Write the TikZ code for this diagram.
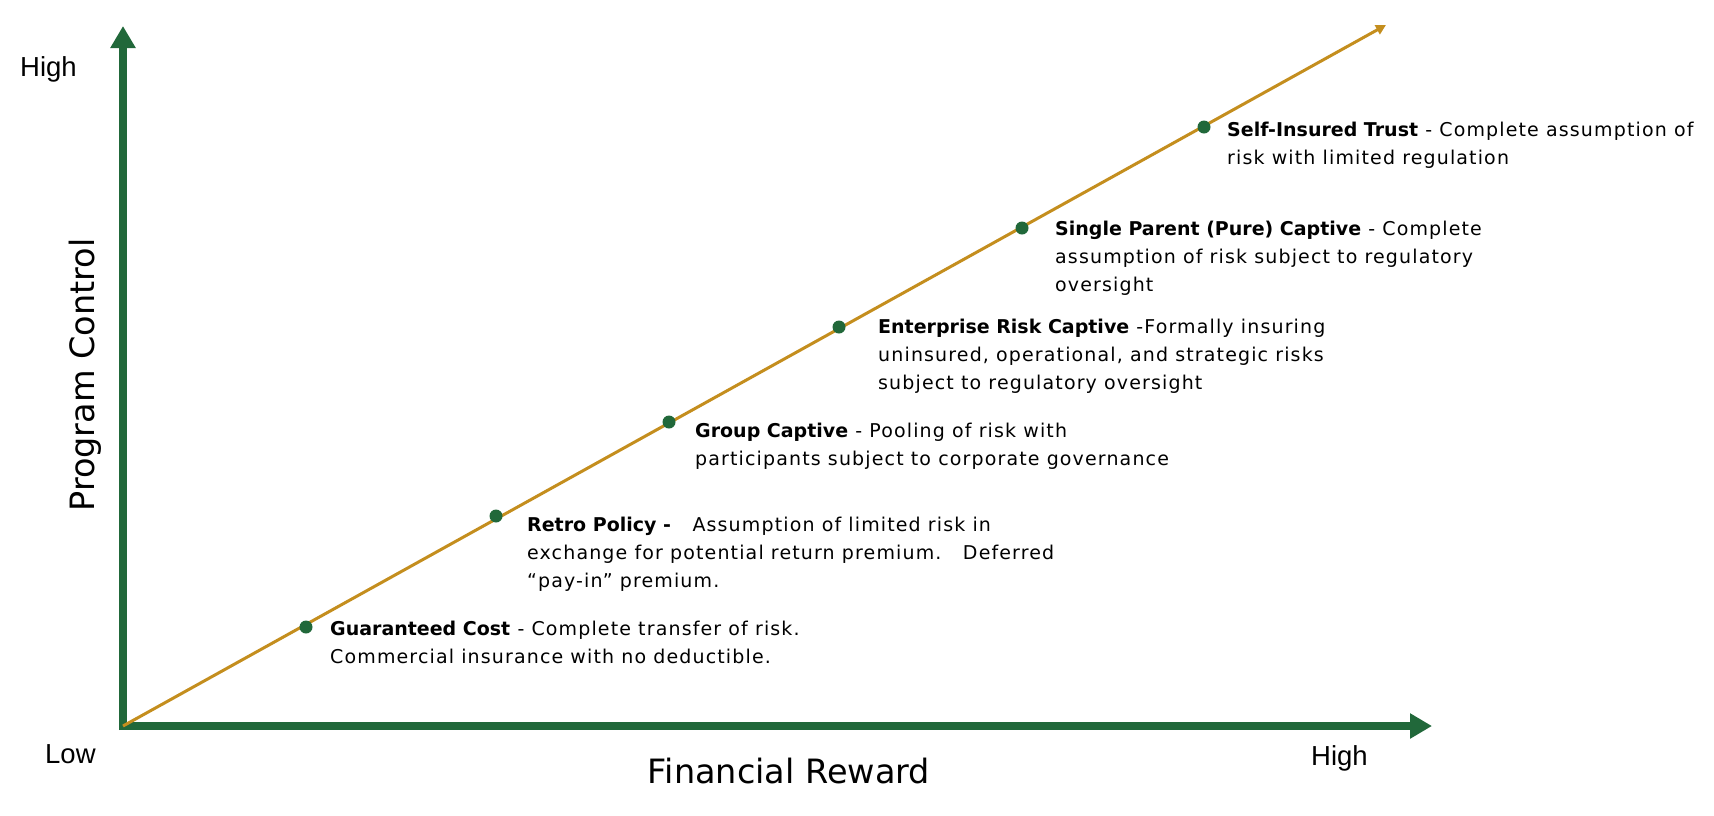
\documentclass[tikz,border=0pt]{standalone}
\usepackage{fontspec}
\setmainfont{DejaVu Sans}[LetterSpace=6.0,BoldFeatures={LetterSpace=0.0}]
\newfontfamily\plainf{DejaVu Sans}
\newfontfamily\arialf{Liberation Sans}
\usetikzlibrary{arrows.meta}
\definecolor{axisgreen}{RGB}{33,104,58}
\definecolor{goldline}{RGB}{196,142,30}
\begin{document}
\begin{tikzpicture}[x=1pt,y=-1pt,
  axis/.style={draw=axisgreen,line width=8pt,-{Triangle[length=22pt,width=24pt]}},
  diag/.style={draw=goldline,line width=3pt,-{Triangle[length=10pt,width=10pt]}},
  dot/.style={circle,fill=axisgreen,inner sep=0pt,minimum size=13pt},
  desc/.style={anchor=base west,align=left,inner sep=0pt,font=\fontsize{19}{28}\selectfont},
  lvl/.style={anchor=base west,inner sep=0pt,font=\arialf\fontsize{27.5}{30}\selectfont},
  title/.style={inner sep=0pt,font=\plainf\fontsize{33.5}{36}\selectfont}]
\useasboundingbox (0,0) rectangle (1714,815);
\coordinate (O) at (123,726);
\coordinate (Ob) at (123,730);
\coordinate (Ol) at (119,726);
\coordinate (Ytip) at (123,26);
\coordinate (Xtip) at (1432,726);
\coordinate (Dtip) at (1386,25);
\draw[axis] (Ob) -- (Ytip);
\draw[axis] (Ol) -- (Xtip);
\draw[diag] (O) -- (Dtip);
\node[dot] (d1) at (306,627) {};
\node[dot] (d2) at (496,516) {};
\node[dot] (d3) at (669,422) {};
\node[dot] (d4) at (839,327) {};
\node[dot] (d5) at (1022,228) {};
\node[dot] (d6) at (1204,127) {};
% base anchor of a multi-line node sits on the last line's baseline
\node[desc] (t1) at (330,663) {\textbf{Guaranteed Cost} - Complete transfer of risk.\\Commercial insurance with no deductible.};
\node[desc] (t2) at (527,587) {\textbf{Retro Policy -}\ \ \ Assumption of limited risk in\\exchange for potential return premium.\ \ \ Deferred\\“pay-in” premium.};
\node[desc] (t3) at (695,465) {\textbf{Group Captive} - Pooling of risk with\\participants subject to corporate governance};
\node[desc] (t4) at (878,389) {\textbf{Enterprise Risk Captive} -Formally insuring\\uninsured, operational, and strategic risks\\subject to regulatory oversight};
\node[desc] (t5) at (1055,291) {\textbf{Single Parent (Pure) Captive} - Complete\\assumption of risk subject to regulatory\\oversight};
\node[desc] (t6) at (1227,164) {\textbf{Self-Insured Trust} - Complete assumption of\\risk with limited regulation};
\node[lvl] (hy) at (20,76) {High};
\node[lvl] (lo) at (45,763) {Low};
\node[lvl] (hx) at (1311,765) {High};
\node[title,rotate=90] (ty) at (85,375) {Program Control};
\node[title] (tx) at (789,771) {Financial Reward};
\end{tikzpicture}
\end{document}
